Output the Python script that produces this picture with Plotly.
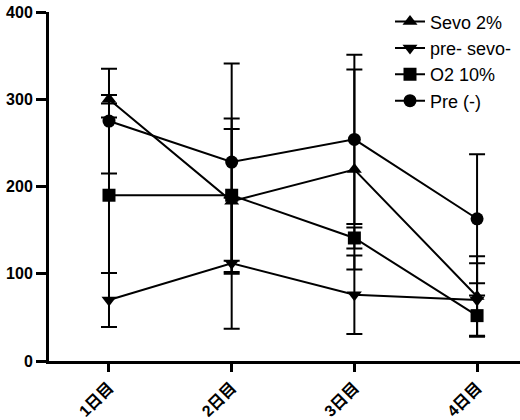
import plotly.graph_objects as go

# Days on the x axis
days = ["1日目", "2日目", "3日目", "4日目"]

# Group means and their error bar half-widths
sevo_2 = [300, 183, 219.5, 74]
sevo_2_err = [5, 83, 114.5, 46]

pre_sevo = [70, 112, 76, 70]
pre_sevo_err = [31, 75, 45, 42]

o2_10 = [190, 190, 141, 52]
o2_10_err = [89, 88, 12, 23]

pre_neg = [275, 228, 254, 163]
pre_neg_err = [60, 113, 97, 74]

y_ticks = [0, 100, 200, 300, 400]

series = [
    ("Sevo 2%", sevo_2, sevo_2_err, "triangle-up", 13),
    ("pre- sevo-", pre_sevo, pre_sevo_err, "triangle-down", 13),
    ("O2 10%", o2_10, o2_10_err, "square", 13),
    ("Pre (-)", pre_neg, pre_neg_err, "circle", 13),
]

fig = go.Figure()
for name, vals, errs, symbol, size in series:
    fig.add_trace(go.Scatter(
        x=days, y=vals, name=name,
        mode="lines+markers",
        line=dict(color="black", width=2),
        marker=dict(symbol=symbol, size=size, color="black"),
        error_y=dict(type="data", array=errs, visible=True,
                     color="black", thickness=2, width=8),
    ))

tick_font = dict(family="Arial, 'Liberation Sans', 'Noto Sans CJK JP'",
                 size=16, color="black", weight="bold")

fig.update_layout(
    width=520, height=420,
    margin=dict(l=49, r=0, t=12, b=56),
    paper_bgcolor="white", plot_bgcolor="white",
    showlegend=True,
    legend=dict(x=0.724, y=1.025, xanchor="left", yanchor="top",
                bgcolor="rgba(0,0,0,0)",
                font=dict(family="Arial, 'Liberation Sans'", size=18, color="black")),
    xaxis=dict(
        type="category",
        range=[-0.489, 3.35],
        showline=True, linewidth=3, linecolor="black",
        showgrid=False, zeroline=False,
        ticks="outside", ticklen=8, tickwidth=3, tickcolor="black",
        tickangle=-45, tickfont=tick_font,
    ),
    yaxis=dict(
        range=[0, 400],
        tickvals=y_ticks,
        showline=True, linewidth=3, linecolor="black",
        showgrid=False, zeroline=False,
        ticks="outside", ticklen=10, tickwidth=3, tickcolor="black",
        tickfont=tick_font,
    ),
)

fig.write_html("out.html")
